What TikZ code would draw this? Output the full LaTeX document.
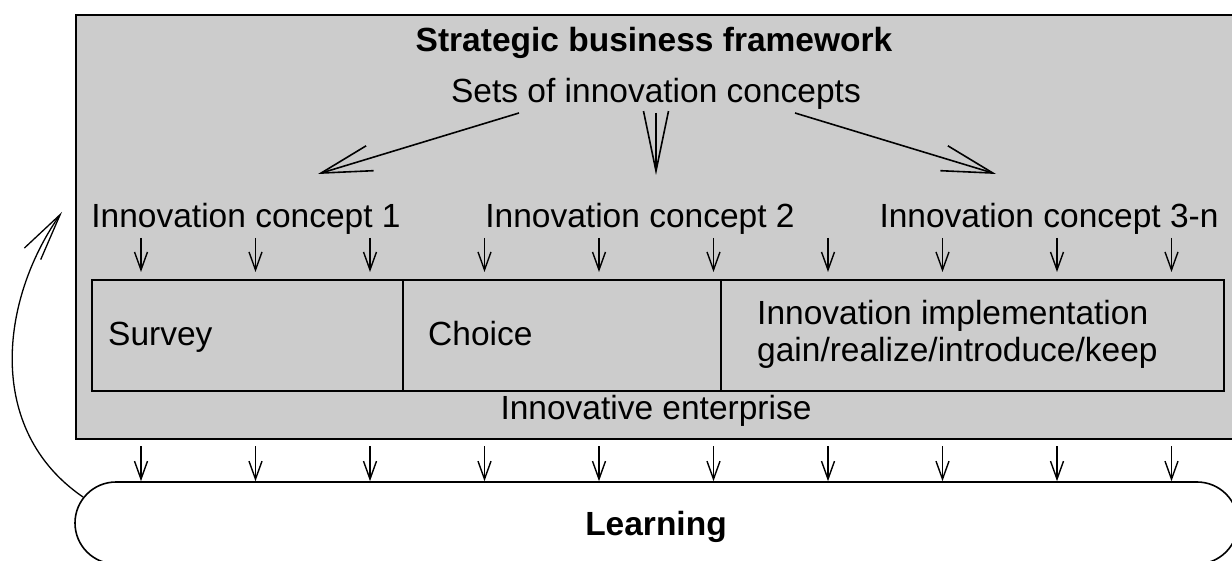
\documentclass[tikz,border=0pt]{standalone}
\usepackage{fontspec}
\setmainfont{Liberation Sans}
\usetikzlibrary{arrows.meta}
\definecolor{boxgray}{HTML}{CCCCCC}
\tikzset{
  lbl/.style={font=\fontsize{33.5}{37}\selectfont, inner sep=0pt, anchor=base},
  boldlbl/.style={font=\fontsize{33.5}{37}\selectfont\bfseries, inner sep=0pt, anchor=base},
  bigarr/.style={-{Straight Barb[length=51pt,width=26pt]}, line width=1.6pt},
  smallarr/.style={-{Straight Barb[length=18pt,width=13pt]}, line width=1.4pt},
  curvearr/.style={-{Straight Barb[length=48pt,width=20pt]}, line width=1.3pt},
  phasebox/.style={draw, line width=1.8pt, fill=boxgray, minimum height=111pt, inner sep=0pt, anchor=north west}
}
\begin{document}
\begin{tikzpicture}[x=1pt,y=-1pt]
\useasboundingbox (0,0) rectangle (1232,561);
\clip (0,0) rectangle (1232,561);
% outer frame
\node[draw, line width=2pt, fill=boxgray, anchor=north west, minimum width=1180pt, minimum height=424pt, inner sep=0pt] (frame) at (75,14) {};
% titles
\node[boldlbl] (title) at (654,52) {Strategic business framework};
\node[lbl] (sets) at (656,103) {Sets of innovation concepts};
% concept labels
\node[lbl] (c1) at (246,228) {Innovation concept 1};
\node[lbl] (c2) at (640,228) {Innovation concept 2};
\node[lbl] (c3) at (1049,228) {Innovation concept 3-n};
% big arrows
\coordinate (s1) at (519,113); \coordinate (e1) at (318,174);
\coordinate (s2) at (656,113); \coordinate (e2) at (656,175);
\coordinate (s3) at (795,113); \coordinate (e3) at (996,174);
\draw[bigarr] (s1) -- (e1);
\draw[-{Straight Barb[length=60pt,width=25pt]}, line width=1.6pt] (s2) -- (e2);
\draw[bigarr] (s3) -- (e3);
% phase boxes
\node[phasebox, minimum width=311pt] (survey) at (91,279) {};
\node[phasebox, minimum width=318pt] (choice) at (402,279) {};
\node[phasebox, minimum width=503pt] (impl) at (720,279) {};
\node[lbl, anchor=base west] (surveyt) at (108,345) {Survey};
\node[lbl, anchor=base west] (choicet) at (428,345) {Choice};
\node[lbl, anchor=base west] (implt1) at (757,325) {Innovation implementation};
\node[lbl, anchor=base west] (implt2) at (757,362) {gain/realize/introduce/keep};
\node[lbl] (enterprise) at (656,419) {Innovative enterprise};
% learning
\node[draw, line width=1.6pt, rounded corners=41pt, minimum width=1163pt, minimum height=82pt, inner sep=0pt, fill=white] (learn) at (656.5,523) {};
\node[boldlbl] (learnt) at (656,535) {Learning};
% small arrows
\foreach \i in {0,...,9} {
  \pgfmathsetmacro{\xx}{141+114.5*\i}
  \coordinate (ts\i) at (\xx,238);
  \coordinate (te\i) at (\xx,272);
  \coordinate (bs\i) at (\xx,446);
  \draw[smallarr] (ts\i) -- (te\i);
  \draw[smallarr] (bs\i) -- (bs\i |- learn.north);
}
% feedback curve
\coordinate (cstart) at (83,497);
\coordinate (cend) at (62,212);
\draw[curvearr] (cstart) .. controls (-15,430) and (0,300) .. (cend);
\end{tikzpicture}
\end{document}
